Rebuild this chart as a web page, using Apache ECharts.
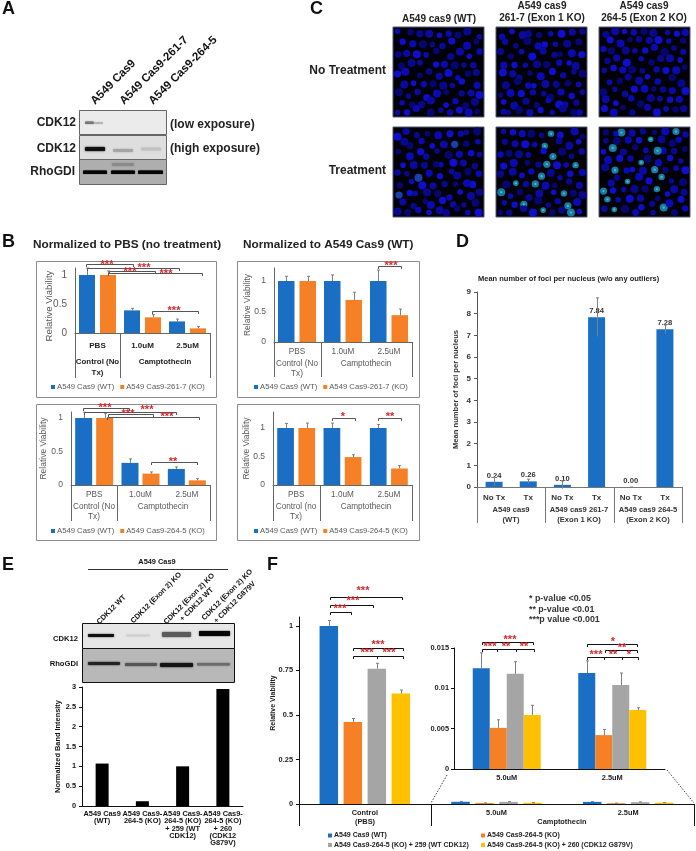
<!DOCTYPE html>
<html><head><meta charset="utf-8">
<style>html,body{margin:0;padding:0;background:#fff}#c{width:696px;height:851px}</style>
<script src="https://cdn.jsdelivr.net/npm/echarts@6/dist/echarts.min.js"></script>
</head><body><div id="c"></div>
<script>
// ---- data ----
const doseCats = ['PBS','1.0uM','2.5uM'];
const WT = 'A549 Cas9 (WT)', KO261 = 'A549 Cas9-261-7 (KO)', KO264 = 'A549 Cas9-264-5 (KO)';
const KO259 = 'A549 Cas9-264-5 (KO) + 259 (WT CDK12)', KO260 = 'A549 Cas9-264-5 (KO) + 260 (CDK12 G879V)';

const b1Wt = [1, 0.39, 0.20],  b1WtErr = [0.12, 0.035, 0.04];
const b1Ko = [1, 0.27, 0.08],  b1KoErr = [0.07, 0.045, 0.03];
const b2Wt = [1, 1, 1],        b2WtErr = [0.077, 0.10, 0.18];
const b2Ko = [1, 0.69, 0.44],  b2KoErr = [0.077, 0.126, 0.10];
const b3Wt = [1, 0.33, 0.24],  b3WtErr = [0.085, 0.06, 0.03];
const b3Ko = [1, 0.17, 0.07],  b3KoErr = [0.07, 0.025, 0.025];
const b4Wt = [1, 1, 1],        b4WtErr = [0.08, 0.085, 0.06];
const b4Ko = [1, 0.49, 0.29],  b4KoErr = [0.085, 0.04, 0.05];

const dCats = ['No Tx','Tx','No Tx','Tx','No Tx','Tx'];
const dVals = [0.24, 0.26, 0.10, 7.84, 0.00, 7.28];
const dErr  = [0.20, 0.10, 0.18, 0.89, 0, 0.20];

const eCats = ['A549 Cas9\n(WT)','A549 Cas9-\n264-5 (KO)','A549 Cas9-\n264-5 (KO)\n+ 259 (WT\nCDK12)','A549 Cas9-\n264-5 (KO)\n+ 260\n(CDK12\nG879V)'];
const eVals = [1.07, 0.12, 1.00, 2.95];

const fCats = ['Control','5.0uM','2.5uM'];
const fBlue = [1, 0.0125, 0.0119],   fBlueErr = [0.03, 0.0019, 0.0015];
const fOrange = [0.46, 0.0051, 0.0042], fOrangeErr = [0.02, 0.0010, 0.0007];
const fGray = [0.76, 0.0118, 0.0104],   fGrayErr = [0.03, 0.0015, 0.0015];
const fYellow = [0.62, 0.0067, 0.0073], fYellowErr = [0.02, 0.0012, 0.0003];
const insetCats = ['5.0uM','2.5uM'];

const blue='#1a6fc4', orange='#f58025', gray='#a5a5a5', yellow='#ffc000';
const font='"Liberation Sans",Arial,sans-serif';

// ---- builders ----
const grid=[],xAxis=[],yAxis=[],series=[],graphic=[],legend=[];
function addPlot(o){
  const gi=grid.length;
  grid.push({left:o.x0,top:o.yTop,width:o.x1-o.x0,height:o.y0-o.yTop,containLabel:false});
  xAxis.push({gridIndex:gi,type:'category',data:o.cats,
    axisLine:{lineStyle:{color:o.xLine||'#666',width:1}},axisTick:{show:false},
    axisLabel:{interval:0,fontFamily:font,fontSize:o.xSize||8.2,fontWeight:o.xBold?'bold':'normal',
      color:o.xColor||'#595959',margin:o.xMargin||7,lineHeight:o.xLH||10}});
  const yl=o.yVals;
  yAxis.push({gridIndex:gi,type:'value',min:0,max:o.max,interval:o.interval,splitLine:{show:false},
    axisLine:{show:true,lineStyle:{color:o.yLine||'#666',width:1}},
    axisTick:{show:!!o.yTick,length:3,lineStyle:{color:o.yLine||'#666'},customValues:yl},
    axisLabel:{customValues:yl,fontFamily:font,fontSize:o.ySize||9,fontWeight:o.yBold?'bold':'normal',
      color:o.yColor||'#595959',margin:o.yMargin||8,formatter:v=>String(v)},
    name:o.yName,nameLocation:'middle',nameGap:o.yGap||18,nameMoveOverlap:false,
    nameTextStyle:{fontFamily:font,fontSize:o.yNameSize||9,fontWeight:o.yBold?'bold':'normal',color:o.yColor||'#595959'}});
  return gi;
}
function addBars(gi,name,color,vals,errs,w,gap,k,n,extra){
  series.push(Object.assign({type:'bar',name,xAxisIndex:gi,yAxisIndex:gi,data:vals,barWidth:w,barGap:(gap/w*100)+'%',
    itemStyle:{color},z:2,animation:false},extra||{}));
  if(!errs) return;
  const off=(k-(n-1)/2)*(w+gap);
  const both=extra&&extra.errBoth;
  series.push({type:'custom',name:name+' error',xAxisIndex:gi,yAxisIndex:gi,z:3,animation:false,silent:true,
    encode:{x:0,y:2},
    data:vals.map((v,i)=>[i,v,v+errs[i],both?v-errs[i]:v]),
    renderItem:(p,api)=>{
      const a=api.coord([api.value(0),api.value(2)]),b=api.coord([api.value(0),api.value(3)]);
      const x=Math.round(a[0]+off)+0.5;
      const st={stroke:'#7f7f7f',lineWidth:1,fill:null};
      return {type:'group',children:[
        {type:'line',shape:{x1:x,y1:a[1],x2:x,y2:b[1]},style:st},
        {type:'line',shape:{x1:x-1.5,y1:a[1],x2:x+1.5,y2:a[1]},style:st}]};
    }});
}
function txt(x,y,text,o){o=o||{};
  graphic.push({type:'text',x,y,rotation:o.rot||0,z:10,silent:true,style:{text,fontFamily:font,fontSize:o.size||9,
    fontWeight:o.bold===false?'normal':'bold',fill:o.color||'#222',align:o.align||'center',
    verticalAlign:o.va||'middle',lineHeight:o.lh}});
}
function poly(pts,color,w,dash){
  graphic.push({type:'polyline',z:9,silent:true,shape:{points:pts},style:{stroke:color||'#555',lineWidth:w||1,fill:null,lineDash:dash}});
}
function vline(x,y1,y2,color){poly([[x+0.5,y1],[x+0.5,y2]],color||'#666');}
function rect(x,y,w,h,fill,stroke){graphic.push({type:'rect',z:1,silent:true,shape:{x,y,width:w,height:h},style:{fill:fill||'none',stroke:stroke||null,lineWidth:1}});}
function band(x,y,w,h,c,blur){graphic.push({type:'rect',z:2,silent:true,shape:{x,y,width:w,height:h,r:1},style:{fill:c,shadowBlur:blur==null?2:blur,shadowColor:c}});}
function bracket(x1,x2,y,color,drop,w){poly([[x1+.5,y+(drop||3)],[x1+.5,y+.5],[x2+.5,y+.5],[x2+.5,y+(drop||3)]],color||'#555',w||1);}
function stars(x,y,s,size){txt(x,y,s,{size:size||11,color:'#d8262c',va:'middle'});}
function brk(x1,x2,y,sx,sy,s,color,w,size){bracket(x1,x2,y,color,3,w);stars(sx,sy,s,size);}
function addLegend(left,top,names,o){o=o||{};
  legend.push({left,top,data:names,orient:o.orient||'horizontal',itemWidth:o.iw||4,itemHeight:o.iw||4,itemGap:o.gap,padding:0,icon:'rect',
    selectedMode:false,textStyle:{fontFamily:font,fontSize:o.size||7.7,fontWeight:o.bold?'bold':'normal',color:o.color||'#595959',lineHeight:o.lh,padding:[0,0,0,-3]}});
}

// ---- panel letters ----
[['A',2,9],['C',310,9],['B',2,242],['D',456,242],['E',2,565],['F',267,565]].forEach(a=>txt(a[1],a[2],a[0],{size:18,color:'#111',align:'left'}));

// ---- panel A ----
[['A549 Cas9',97,107],['A549 Cas9-261-7',126,107],['A549 Cas9-264-5',155,107]].forEach(a=>
  txt(a[1],a[2],a[0],{size:11.5,color:'#111',align:'left',va:'bottom',rot:Math.PI/4}));
rect(79.5,110.5,87,24,'#ebebeb','#666');
rect(79.5,135.5,87,24,'#dedede','#666');
rect(79.5,159.5,87,25,'#aeaeae','#666');
band(85,121.5,9,2.5,'#777',1.5);band(94,122,9,2,'#b5b5b5',1.5);
band(85,147,20,4,'#111',2);band(113,149,20,3,'#a5a5a5',2);band(141,147.5,20,3,'#c2c2c2',2);
band(83,170.5,24,3.5,'#050505',1);band(111,170.5,24,3.5,'#050505',1);band(138,170.5,25,3.5,'#050505',1);
band(112,163,22,3,'#8a8a8a',2);
txt(76,123,'CDK12',{size:12,align:'right',color:'#222'});
txt(76,149,'CDK12',{size:12,align:'right',color:'#222'});
txt(75,172,'RhoGDI',{size:12,align:'right',color:'#222'});
txt(170,124.5,'(low exposure)',{size:12,align:'left',color:'#222'});
txt(170,148.5,'(high exposure)',{size:12,align:'left',color:'#222'});

// ---- panel C ----
const nuclei=[[.06,.07],[.17,.05],[.28,.09],[.39,.06],[.51,.10],[.62,.05],[.73,.09],[.84,.06],[.94,.10],
[.09,.18],[.21,.17],[.33,.20],[.44,.17],[.56,.21],[.67,.18],[.79,.20],[.90,.18],
[.05,.29],[.15,.30],[.27,.28],[.38,.31],[.50,.29],[.61,.32],[.72,.29],[.83,.31],[.95,.28],
[.10,.41],[.22,.40],[.32,.42],[.45,.41],[.55,.43],[.67,.41],[.78,.43],[.89,.40],
[.05,.52],[.16,.52],[.27,.53],[.38,.51],[.50,.53],[.61,.52],[.72,.54],[.84,.52],[.94,.53],
[.10,.63],[.21,.64],[.33,.62],[.44,.64],[.56,.63],[.67,.65],[.78,.63],[.90,.64],
[.05,.74],[.16,.75],[.27,.73],[.38,.76],[.50,.74],[.61,.75],[.73,.73],[.84,.75],[.95,.74],
[.10,.85],[.22,.84],[.33,.86],[.44,.84],[.56,.86],[.67,.84],[.79,.86],[.90,.84],
[.06,.94],[.17,.95],[.28,.93],[.39,.95],[.51,.94],[.62,.95],[.73,.93],[.84,.95],[.94,.94]];
const blues=['#0a0ab4','#08088e','#0e0ecc','#060672','#0a0aa0'];
const panelsC=[[393,27,0],[496,27,1],[599,27,2],[393,127,3],[496,127,4],[599,127,5]];
const tealSets={3:[11,40,59],4:[5,13,22,30,38,44,51,57,62,66,72,75,46,33],5:[2,7,16,25,31,37,41,47,54,58,63,69,74,20,28]};
panelsC.forEach(p=>{
  rect(p[0],p[1],91,90,'#000006','#55557a');
  const fx=p[2]%2===1, fy=p[2]%3===2;
  nuclei.forEach((n,i)=>{
    const jx=((i*13+p[2]*5)%7-3)*0.008, jy=((i*11+p[2]*7)%7-3)*0.008;
    const u=Math.min(.95,Math.max(.05,(fx?1-n[0]:n[0])+jx)),v=Math.min(.95,Math.max(.05,(fy?1-n[1]:n[1])+jy));
    const r=2.8+((i*5+p[2])%4)*0.4;
    const teal=(tealSets[p[2]]||[]).includes(i);
    graphic.push({type:'circle',z:2,silent:true,shape:{cx:p[0]+u*91,cy:p[1]+v*90,r},
      style:{fill:teal?(p[2]===3?'#1a40b0':'#177aa8'):blues[(i*3+p[2])%5]}});
    if(teal&&p[2]!==3) graphic.push({type:'circle',z:3,silent:true,shape:{cx:p[0]+u*91,cy:p[1]+v*90,r:1.2},style:{fill:'#38c0a8'}});
  });
});
txt(439,19,'A549 cas9 (WT)',{size:10});
txt(542,6,'A549 cas9',{size:10});txt(542,18.5,'261-7 (Exon 1 KO)',{size:10});
txt(644,6,'A549 cas9',{size:10});txt(644,18.5,'264-5 (Exon 2 KO)',{size:10});
txt(386,71,'No Treatment',{size:12,align:'right'});
txt(386,171,'Treatment',{size:12,align:'right'});

// ---- panel B ----
txt(33,245,'Normalized to PBS (no treatment)',{size:11.8,align:'left',color:'#222'});
txt(243,245,'Normalized to A549 Cas9 (WT)',{size:11.8,align:'left',color:'#222'});
rect(36.5,261.5,180,136,null,'#8c8c8c');rect(237.5,261.5,182,136,null,'#8c8c8c');
rect(36.5,404.5,180,136,null,'#8c8c8c');rect(237.5,404.5,182,136,null,'#8c8c8c');

const yVals=[0,0.5,1];
const gl={size:8.2,bold:false,color:'#595959'};
const bl={size:7.9};
let g=addPlot({x0:75,x1:210,yTop:268,y0:333,max:1.12,cats:doseCats,xBold:true,xColor:'#222',xSize:8,yVals,ySize:10,xMargin:8});
addBars(g,WT,blue,b1Wt,b1WtErr,16,5,0,2);addBars(g,KO261,orange,b1Ko,b1KoErr,16,5,1,2);
[75,120,210].forEach(x=>vline(x,333,378));
txt(49,306,'Relative Viability',{size:9.7,bold:false,color:'#595959',rot:Math.PI/2});
txt(97.5,362,'Control (No',bl);txt(97.5,372.5,'Tx)',bl);txt(165,362,'Camptothecin',bl);
addLegend(51,383,[WT,KO261],{gap:6});

g=addPlot({x0:274,x1:412,yTop:268,y0:342,max:1.213,cats:doseCats,yVals,ySize:8.5,yName:'Relative Viability',yNameSize:8.5,yGap:22,xMargin:5});
addBars(g,WT,blue,b2Wt,b2WtErr,16.5,5,0,2);addBars(g,KO261,orange,b2Ko,b2KoErr,16.5,5,1,2);
[274,321,412].forEach(x=>vline(x,342,377));
txt(297,364,'Control (No',gl);txt(297,374,'Tx)',gl);txt(366,364,'Camptothecin',gl);
addLegend(254,383,[WT,KO261],{gap:6});

g=addPlot({x0:71,x1:210,yTop:412,y0:485,max:1.09,cats:doseCats,yVals,ySize:8.5,yName:'Relative Viability',yNameSize:8.5,yGap:23,xMargin:5});
addBars(g,WT,blue,b3Wt,b3WtErr,17,4,0,2);addBars(g,KO264,orange,b3Ko,b3KoErr,17,4,1,2);
[71,117,210].forEach(x=>vline(x,485,521));
txt(94,507,'Control (No',gl);txt(94,517,'Tx)',gl);txt(163,507,'Camptothecin',gl);
addLegend(51,527,[WT,KO264],{gap:6});

g=addPlot({x0:273,x1:412,yTop:412,y0:485,max:1.28,cats:doseCats,yVals,ySize:8.5,yName:'Relative Viability',yNameSize:8.5,yGap:22,xMargin:5});
addBars(g,WT,blue,b4Wt,b4WtErr,16.7,4.5,0,2);addBars(g,KO264,orange,b4Ko,b4KoErr,16.7,4.5,1,2);
[273,320,412].forEach(x=>vline(x,485,521));
txt(296,507,'Control (no',gl);txt(296,517,'Tx)',gl);txt(366,507,'Camptothecin',gl);
addLegend(254,527,[WT,KO264],{gap:6});

[[86,133,264,107,265],[87,179,268,144,268],[109,155,271,130,272],[108,202,273,166,274],[152,198,311,174,311]].forEach(b=>brk(b[0],b[1],b[2],b[3],b[4],'***'));
[[83,129,408,105,408],[84,176,412,147,410],[108,153,414,128,414],[107,199,417,167,417]].forEach(b=>brk(b[0],b[1],b[2],b[3],b[4],'***'));
brk(151,197,462,173,462,'**');
brk(378,401,266,391,266,'***');
brk(332,355,418,343,417,'*');brk(378,401,418,390,417,'**');

// ---- panel D ----
txt(478,279,'Mean number of foci per nucleus (w/o any outliers)',{size:7.5,align:'left',color:'#222'});
g=addPlot({x0:477,x1:682,yTop:292,y0:487,max:9,interval:1,cats:dCats,xBold:true,xColor:'#333',xSize:8,yBold:true,yColor:'#333',ySize:8,yLine:'#555',xLine:'#777',yTick:true,
  yVals:[0,1,2,3,4,5,6,7,8,9],yName:'Mean number of foci per nucleus',yNameSize:7.6,yGap:17,yMargin:6,xMargin:6});
addBars(g,'Mean foci',blue,dVals,dErr,17,0,0,1,{errBoth:true,label:{show:true,position:'top',distance:2,fontFamily:font,fontSize:7.6,fontWeight:'bold',color:'#333',formatter:p=>p.value.toFixed(2)}});
[477,545,614,682].forEach(x=>vline(x,487,523,'#777'));
txt(511,510,'A549 cas9',{size:7.6,color:'#333'});txt(511,519.5,'(WT)',{size:7.6,color:'#333'});
txt(579,510,'A549 cas9 261-7',{size:7.6,color:'#333'});txt(579,519.5,'(Exon 1 KO)',{size:7.6,color:'#333'});
txt(648,510,'A549 cas9 264-5',{size:7.6,color:'#333'});txt(648,519.5,'(Exon 2 KO)',{size:7.6,color:'#333'});

// ---- panel E ----
txt(157,562,'A549 Cas9',{size:7.4,color:'#111'});
poly([[88,569.5],[228,569.5]],'#333',1);
const r45=Math.PI/4;
[['CDK12 WT',98,623],['CDK12 (Exon 2) KO',132,622],['CDK12 (Exon 2) KO',165,623],['+ CDK12 WT',181,620],['CDK12 (Exon 2) KO',203,619],['+ CDK12 G879V',215,622]].forEach(a=>
  txt(a[1],a[2],a[0],{size:7.4,color:'#111',align:'left',va:'middle',rot:r45}));
rect(82.5,623.5,152,25,'#e6e6e6','#111');
rect(82.5,648.5,152,34,'#b8b8b8','#111');
band(88,634,26,3,'#111',1.5);band(126,634.5,24,2,'#cfcfcf',2);band(162,632,29,5,'#5a5a5a',2);band(199,631,31,5,'#050505',1.5);
band(88,662,32,3,'#222',2);band(125,663,32,3,'#555',2);band(160,663,33,4,'#151515',2);band(197,663,33,2.5,'#6a6a6a',2);
txt(78,639,'CDK12',{size:7.6,align:'right',color:'#111'});
txt(78,664,'RhoGDI',{size:7.6,align:'right',color:'#111'});
g=addPlot({x0:82,x1:243,yTop:687,y0:806,max:3,interval:0.5,cats:eCats,xBold:true,xColor:'#111',xSize:7.4,xLH:7.4,xLine:'#111',yLine:'#111',yBold:true,yColor:'#111',ySize:7.4,yTick:true,
  yVals:[0,0.5,1,1.5,2,2.5,3],yName:'Normalized Band Intensity',yNameSize:7.4,yGap:21,yMargin:6,xMargin:4});
addBars(g,'Band intensity','#000',eVals,null,13,0,0,1);

// ---- panel F ----
g=addPlot({x0:299,x1:694,yTop:617,y0:804,max:1.05,cats:fCats,xBold:true,xColor:'#222',xSize:7.4,xLine:'#111',yLine:'#111',yBold:true,yColor:'#222',ySize:7.4,yTick:true,
  yVals:[0,0.25,0.5,0.75,1],yMargin:6,xMargin:4});
addBars(g,WT,blue,fBlue,fBlueErr,18.5,5.5,0,4);addBars(g,KO264,orange,fOrange,fOrangeErr,18.5,5.5,1,4);
addBars(g,KO259,gray,fGray,fGrayErr,18.5,5.5,2,4);addBars(g,KO260,yellow,fYellow,fYellowErr,18.5,5.5,3,4);
[299,431,694].forEach(x=>vline(x,804,826,'#111'));
txt(273,703,'Relative Viability',{size:7,color:'#222',rot:Math.PI/2});
txt(365,822,'(PBS)',{size:7.4});txt(562,822,'Camptothecin',{size:7.4});
g=addPlot({x0:454,x1:665,yTop:648,y0:769,max:0.015,cats:insetCats,xBold:true,xColor:'#222',xSize:7.4,xLine:'#111',yLine:'#111',yBold:true,yColor:'#222',ySize:7.4,yTick:true,
  yVals:[0,0.005,0.01,0.015],yMargin:5,xMargin:4});
const insetI=[1,2];
addBars(g,WT,blue,insetI.map(i=>fBlue[i]),insetI.map(i=>fBlueErr[i]),17,0,0,4);
addBars(g,KO264,orange,insetI.map(i=>fOrange[i]),insetI.map(i=>fOrangeErr[i]),17,0,1,4);
addBars(g,KO259,gray,insetI.map(i=>fGray[i]),insetI.map(i=>fGrayErr[i]),17,0,2,4);
addBars(g,KO260,yellow,insetI.map(i=>fYellow[i]),insetI.map(i=>fYellowErr[i]),17,0,3,4);
poly([[447,775],[431,803]],'#444',1,[1.5,1.5]);poly([[667,770],[694,803]],'#444',1,[1.5,1.5]);
const bc='#111';
[[330,402,597,363,591,'***'],[330,373,605,353,601,'***'],[330,351,612,340,609,'***'],[353,403,648,378,645,'***'],[353,377,656,367,653,'***'],[377,403,656,389,653,'***'],
 [482,533,642,510,640,'***'],[482,497,649,490,647,'***'],[497,516,649,506,647,'**'],[516,534,649,524,647,'**'],
 [587,637,644,613,642,'*'],[605,637,650,622,648,'**'],[587,604,657,596,655,'***'],[604,622,657,613,655,'**'],[622,638,657,629,655,'*']
].forEach(b=>brk(b[0],b[1],b[2],b[3],b[4],b[5],bc,1,11));
txt(529,599,'* p-value <0.05',{size:8.9,align:'left',color:'#333'});
txt(529,609.5,'** p-value <0.01',{size:8.9,align:'left',color:'#333'});
txt(529,620,'***p value <0.001',{size:8.9,align:'left',color:'#333'});
addLegend(328,832,[WT,KO259],{orient:'vertical',gap:2.5,size:7,bold:true,color:'#222'});
addLegend(481,832,[KO264,KO260],{orient:'vertical',gap:2.5,size:7,bold:true,color:'#222'});

const chart=echarts.init(document.getElementById('c'),null,{renderer:'canvas',width:696,height:851});
chart.setOption({animation:false,backgroundColor:'#fff',grid,xAxis,yAxis,series,legend,graphic:{elements:graphic}});
</script></body></html>
